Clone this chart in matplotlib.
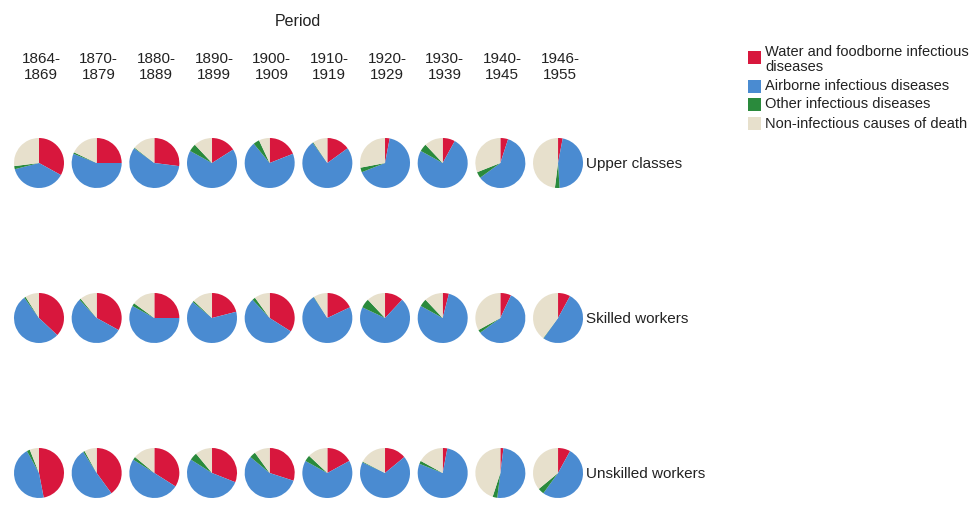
import matplotlib.pyplot as plt

plt.rcParams['font.family'] = ['Liberation Sans', 'DejaVu Sans']

periods = ['1864-\n1869', '1870-\n1879', '1880-\n1889', '1890-\n1899', '1900-\n1909',
           '1910-\n1919', '1920-\n1929', '1930-\n1939', '1940-\n1945', '1946-\n1955']
classes = ['Upper classes', 'Skilled workers', 'Unskilled workers']
causes = ['Water and foodborne infectious\ndiseases', 'Airborne infectious diseases',
          'Other infectious diseases', 'Non-infectious causes of death']

# shares (%) per period, clockwise from 12 o'clock
upper_water = [33, 25, 27, 16, 19, 15, 3, 8, 5, 3]
upper_air = [38, 56, 58, 67, 70, 75, 66, 75, 60, 46]
upper_other = [2, 1, 0.5, 5, 4, 0.5, 3, 5, 4, 3]
upper_non = [27, 18, 14.5, 12, 7, 9.5, 28, 12, 31, 48]

skilled_water = [37, 33, 25, 21, 34, 18, 12, 4, 7, 8]
skilled_air = [53, 55, 58, 65, 54, 73, 70, 79, 58, 52]
skilled_other = [1, 1, 2, 1, 2, 0.3, 6, 5, 2, 0.3]
skilled_non = [9, 11, 15, 13, 10, 9, 12, 12, 33, 40]

unskilled_water = [47, 40, 34, 31, 30, 17, 14, 3, 2, 8]
unskilled_air = [45, 51, 50, 53, 56, 66, 68, 78, 50, 52]
unskilled_other = [2, 1, 2, 5, 4, 4, 0.5, 2, 3, 4]
unskilled_non = [6, 8, 14, 11, 10, 13, 17.5, 17, 45, 36]

rows = [
    (upper_water, upper_air, upper_other, upper_non),
    (skilled_water, skilled_air, skilled_other, skilled_non),
    (unskilled_water, unskilled_air, unskilled_other, unskilled_non),
]

colors = ['#d8173d', '#4a8bd1', '#2a8a3c', '#e7e0cc']

W, H = 975, 507
fig = plt.figure(figsize=(9.75, 5.07), dpi=100)
ax = fig.add_axes([0, 0, 1, 1])

col_x0, col_dx = 39, 57.67
row_y = [163, 318, 473]
radius = 25

for r, series in enumerate(rows):
    for c in range(len(periods)):
        vals = [s[c] for s in series]
        ax.pie(vals, colors=colors, startangle=90, counterclock=False,
               center=(col_x0 + c * col_dx, H - row_y[r]), radius=radius,
               wedgeprops=dict(linewidth=0))
    ax.text(586, H - row_y[r] - 1, classes[r], ha='left', va='center', fontsize=11, color='#222222')

for c, p in enumerate(periods):
    ax.text(col_x0 + 2 + c * col_dx, H - 67, p, ha='center', va='center',
            fontsize=11, color='#222222', linespacing=1.2)

ax.text(298, H - 21, 'Period', ha='center', va='center', fontsize=11.5, color='#222222')

# legend
leg_y = [57, 86, 104, 123]
for i, cause in enumerate(causes):
    ax.add_patch(plt.Rectangle((748, H - leg_y[i] - 6.5), 13, 13, color=colors[i], lw=0))
for i, cause in enumerate(causes):
    ty = H - (59.5 if i == 0 else leg_y[i] + 0.5)
    ax.text(765, ty, cause, ha='left', va='center', fontsize=10.5, color='#222222',
            linespacing=1.1)

ax.set_xlim(0, W)
ax.set_ylim(0, H)
ax.set_aspect('auto')
ax.axis('off')

fig.savefig('out.png', dpi=100)
